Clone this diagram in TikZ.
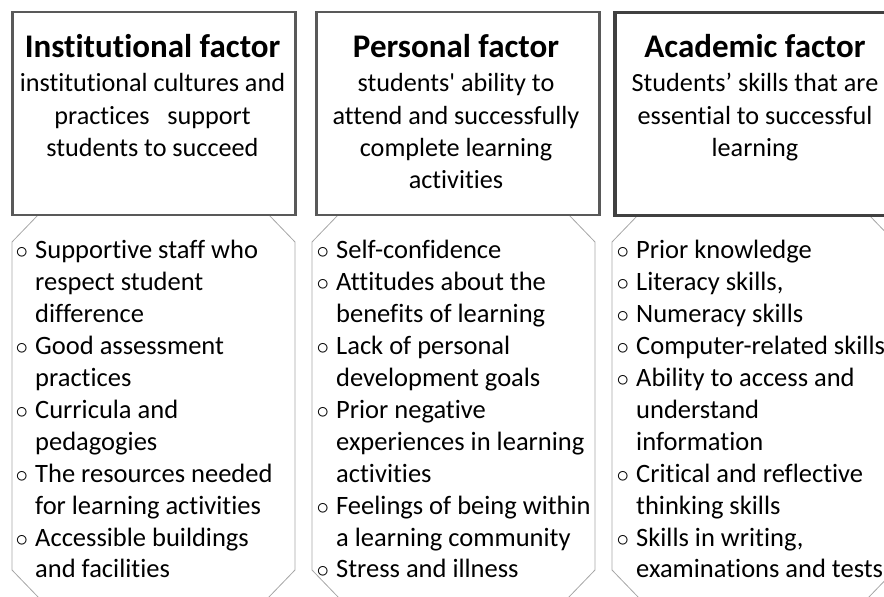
\documentclass[tikz,border=0pt]{standalone}
\usepackage{fontspec}
\setmainfont{Carlito}[Ligatures={TeXOff,NoCommon}]
\usetikzlibrary{positioning}

\definecolor{boxgray}{HTML}{595959}
\definecolor{boxdark}{HTML}{404040}
\definecolor{octgray}{HTML}{A6A6A6}

\newcommand{\bul}{\makebox[19.5pt][l]{$\circ$}}
\newcommand{\ind}{\hspace*{19.5pt}}

\begin{document}
\begin{tikzpicture}[x=1pt,y=1pt,
	factorbox/.style={draw=boxgray,line width=2.5pt,fill=white,minimum width=283pt,minimum height=203pt,inner sep=0pt,anchor=north west},
	listframe/.style={draw=octgray,line width=0.8pt},
	factortitle/.style={font=\fontsize{33}{40}\selectfont\bfseries,inner sep=0pt,anchor=base},
	descr/.style={font=\fontsize{26.2}{32.3}\selectfont,align=center,inner sep=0pt,anchor=base},
	items/.style={font=\fontsize{26.5}{31.9}\selectfont,align=left,inner sep=0pt,anchor=base west},
	]
	\useasboundingbox (0,0) rectangle (884,597);
	\clip (0,0) rectangle (884,597);

	\foreach \xl in {12,312,612}
		\draw[listframe] (\xl+27,383) -- (\xl,355) -- (\xl,27) -- (\xl+27,-1) -- (\xl+256,-1) -- (\xl+283,27) -- (\xl+283,355) -- (\xl+256,383);

	\node[factorbox] (instbox) at (11,586) {};
	\node[factorbox] (persbox) at (315,586) {};
	\node[factorbox,draw=boxdark,line width=3.5pt] (acadbox) at (613,586) {};

	\node[factortitle] (inst) at (152.5,539) {Institutional factor};
	\node[factortitle] (pers) at (456,539) {Personal factor};
	\node[factortitle] (acad) at (755,539) {Academic factor};

	% base anchor sits on the last line
	\node[descr] (instdesc) at (152.5,440.4) {institutional cultures and\\practices\ \ \ support\\students to succeed};
	\node[descr] (persdesc) at (456,408.1) {students' ability to\\attend and successfully\\complete learning\\activities};
	\node[descr] (acaddesc) at (755,440.4) {Students’ skills that are\\essential to successful\\learning};

	\node[items] (instlist) at (15.5,19) {\bul Supportive staff who\\\ind respect student\\\ind difference\\\bul Good assessment\\\ind practices\\\bul Curricula and\\\ind pedagogies\\\bul The resources needed\\\ind for learning activities\\\bul Accessible buildings\\\ind and facilities};
	\node[items] (perslist) at (316.5,19) {\bul Self-confidence\\\bul Attitudes about the\\\ind benefits of learning\\\bul Lack of personal\\\ind development goals\\\bul Prior negative\\\ind experiences in learning\\\ind activities\\\bul Feelings of being within\\\ind a learning community\\\bul Stress and illness};
	\node[items] (acadlist) at (616.5,19) {\bul Prior knowledge\\\bul Literacy skills,\\\bul Numeracy skills\\\bul Computer-related skills\\\bul Ability to access and\\\ind understand\\\ind information\\\bul Critical and reflective\\\ind thinking skills\\\bul Skills in writing,\\\ind examinations and tests};
\end{tikzpicture}
\end{document}
